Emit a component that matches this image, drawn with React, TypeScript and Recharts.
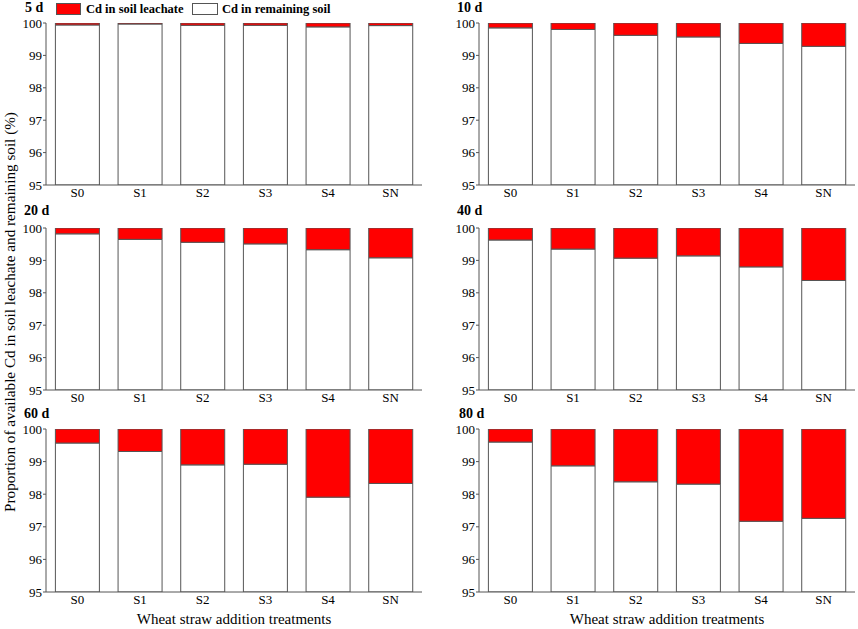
import React from 'react';
import { BarChart, Bar, XAxis, YAxis } from 'recharts';

const categories = ['S0', 'S1', 'S2', 'S3', 'S4', 'SN'];

// Cd in remaining soil (%), the rest up to 100 is Cd in soil leachate
const remain5d = [99.94, 99.97, 99.93, 99.93, 99.88, 99.92];
const remain10d = [99.85, 99.8, 99.62, 99.57, 99.37, 99.28];
const remain20d = [99.82, 99.65, 99.56, 99.51, 99.33, 99.08];
const remain40d = [99.63, 99.35, 99.07, 99.14, 98.8, 98.38];
const remain60d = [99.57, 99.31, 98.9, 98.92, 97.91, 98.33];
const remain80d = [99.6, 98.87, 98.38, 98.31, 97.17, 97.26];

const yTicks = [95, 96, 97, 98, 99, 100];

const SERIF = '"Liberation Serif", "Times New Roman", serif';
const RED = '#ff0000';
const EDGE = '#555555';

const buildRows = (remain: number[]) =>
  categories.map((c, i) => ({
    name: c,
    remain: remain[i],
    leach: +(100 - remain[i]).toFixed(3),
  }));

function Panel({
  title,
  remain,
  plotLeft,
  plotTop,
  plotHeight,
  titleLeft,
  titleTop,
}: {
  title: string;
  remain: number[];
  plotLeft: number;
  plotTop: number;
  plotHeight: number;
  titleLeft: number;
  titleTop: number;
}) {
  const yw = 46;
  const mt = 10;
  const xh = 26;
  return (
    <>
      <div
        style={{
          position: 'absolute', left: titleLeft, top: titleTop,
          fontFamily: SERIF, fontWeight: 'bold', fontSize: 14, lineHeight: '16px', color: '#000',
        }}
      >
        {title}
      </div>
      <div style={{ position: 'absolute', left: plotLeft - yw, top: plotTop - mt }}>
        <BarChart
          width={yw + 376 + 2}
          height={mt + plotHeight + xh}
          data={buildRows(remain)}
          margin={{ top: mt, right: 2, left: 0, bottom: 0 }}
          barCategoryGap="15%"
        >
          <XAxis
            dataKey="name"
            height={xh}
            axisLine={{ stroke: EDGE }}
            tickLine={false}
            tickSize={0}
            tickMargin={3}
            tick={{ fill: '#000', fontSize: 13, fontFamily: SERIF }}
            interval={0}
          />
          <YAxis
            width={yw}
            domain={[95, 100]}
            allowDataOverflow
            ticks={yTicks}
            axisLine={{ stroke: EDGE }}
            tickLine={{ stroke: EDGE }}
            tickSize={3}
            tickMargin={1}
            tick={{ fill: '#000', fontSize: 13, fontFamily: SERIF }}
          />
          <Bar dataKey="remain" stackId="a" fill="#ffffff" stroke={EDGE} strokeWidth={1} isAnimationActive={false} />
          <Bar dataKey="leach" stackId="a" fill={RED} stroke={EDGE} strokeWidth={1} isAnimationActive={false} />
        </BarChart>
      </div>
    </>
  );
}

export default function App() {
  return (
    <div style={{ position: 'absolute', left: 0, top: 0, width: 858, height: 629, background: '#fff', overflow: 'hidden' }}>
      {/* legend */}
      <div style={{ position: 'absolute', left: 56, top: 3, width: 25, height: 12, background: RED, border: `1px solid ${EDGE}`, boxSizing: 'border-box' }} />
      <div style={{ position: 'absolute', left: 86, top: 1, fontFamily: SERIF, fontWeight: 'bold', fontSize: 12.5, lineHeight: '16px' }}>
        Cd in soil leachate
      </div>
      <div style={{ position: 'absolute', left: 192, top: 3, width: 26, height: 12, background: '#fff', border: `1px solid ${EDGE}`, boxSizing: 'border-box' }} />
      <div style={{ position: 'absolute', left: 222, top: 1, fontFamily: SERIF, fontWeight: 'bold', fontSize: 12.5, lineHeight: '16px' }}>
        Cd in remaining soil
      </div>

      <Panel title="5 d" remain={remain5d} plotLeft={46} plotTop={23} plotHeight={162} titleLeft={25} titleTop={0} />
      <Panel title="10 d" remain={remain10d} plotLeft={479} plotTop={23} plotHeight={162} titleLeft={457} titleTop={0} />
      <Panel title="20 d" remain={remain20d} plotLeft={46} plotTop={228} plotHeight={162} titleLeft={24} titleTop={203} />
      <Panel title="40 d" remain={remain40d} plotLeft={479} plotTop={228} plotHeight={162} titleLeft={457} titleTop={203} />
      <Panel title="60 d" remain={remain60d} plotLeft={46} plotTop={429} plotHeight={163} titleLeft={24} titleTop={406} />
      <Panel title="80 d" remain={remain80d} plotLeft={479} plotTop={429} plotHeight={163} titleLeft={459} titleTop={406} />

      {/* axis titles */}
      <div style={{ position: 'absolute', left: 9, top: 312, width: 0, height: 0 }}>
        <div
          style={{
            position: 'absolute', left: 0, top: 0, transform: 'translate(-50%, -50%) rotate(-90deg)',
            whiteSpace: 'nowrap', fontFamily: SERIF, fontSize: 15.2, lineHeight: '17px', color: '#000',
          }}
        >
          Proportion of available Cd in soil leachate and remaining soil (%)
        </div>
      </div>
      <div style={{ position: 'absolute', left: 46, width: 376, top: 611, textAlign: 'center', fontFamily: SERIF, fontSize: 15, lineHeight: '17px' }}>
        Wheat straw addition treatments
      </div>
      <div style={{ position: 'absolute', left: 479, width: 376, top: 611, textAlign: 'center', fontFamily: SERIF, fontSize: 15, lineHeight: '17px' }}>
        Wheat straw addition treatments
      </div>
    </div>
  );
}
